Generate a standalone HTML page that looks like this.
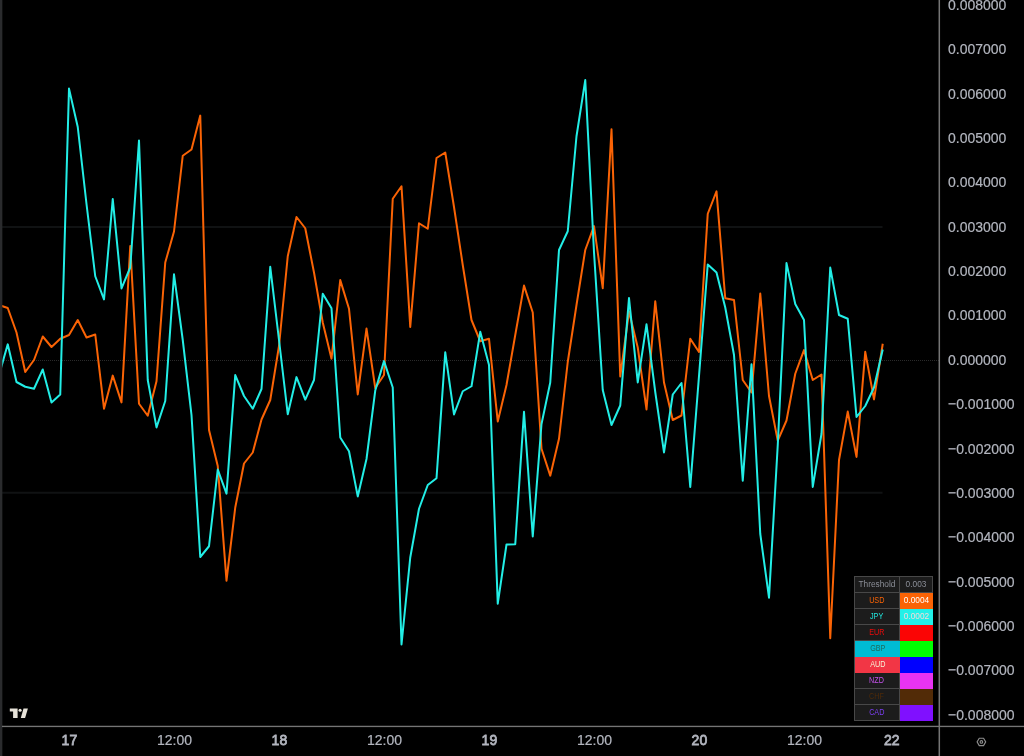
<!DOCTYPE html>
<html><head><meta charset="utf-8"><title>Chart</title>
<style>
html,body{margin:0;padding:0;background:#000;}
body{width:1024px;height:756px;position:relative;overflow:hidden;font-family:"Liberation Sans",sans-serif;}
.yl{position:absolute;left:948px;height:16px;line-height:16px;font-size:14px;color:#b2b5be;white-space:nowrap;transform:scaleY(1.08);transform-origin:0 12.6px;-webkit-text-stroke:0.2px #b2b5be;}
.xl{position:absolute;top:731.5px;width:60px;text-align:center;height:16px;line-height:16px;font-size:14px;color:#b2b5be;white-space:nowrap;transform:scaleY(1.07);transform-origin:0 12.6px;-webkit-text-stroke:0.2px #b2b5be;}
.xl.b{font-weight:normal;-webkit-text-stroke:0.75px #b2b5be;}
#tbl{position:absolute;left:854px;top:576px;width:79px;height:145px;background:#484848;}
.tr{position:absolute;left:0;width:79px;height:16px;}
.c1,.c2{position:absolute;top:1px;height:15px;line-height:15px;font-size:8.3px;text-align:center;white-space:nowrap;}
.c1{left:1px;width:44px;}
.n{display:inline-block;transform:scaleX(.87);}
.c2{left:46px;width:32px;}
svg{position:absolute;left:0;top:0;}
</style></head><body>
<svg width="1024" height="756" viewBox="0 0 1024 756">
<line x1="2" y1="227" x2="882.5" y2="227" stroke="#101213" stroke-width="2"/>
<line x1="2" y1="492.7" x2="882.5" y2="492.7" stroke="#101213" stroke-width="2"/>
<line x1="2" y1="360.5" x2="939" y2="360.5" stroke="#2a2a2a" stroke-width="1" stroke-dasharray="1 1"/>
<polyline fill="none" stroke="#fa6305" stroke-width="2" stroke-linejoin="round" points="-1.00,305.00 7.75,308.00 16.50,332.50 25.25,372.00 34.00,360.00 42.75,336.50 51.50,347.00 60.25,338.75 69.00,335.00 77.75,320.00 86.50,337.50 95.25,334.50 104.00,408.65 112.75,375.60 121.50,402.40 130.25,246.10 139.00,403.75 147.75,415.75 156.50,381.25 165.25,262.50 174.00,231.50 182.75,155.75 191.50,149.50 200.25,115.60 209.00,430.00 217.75,466.00 226.50,580.65 235.25,507.50 244.00,463.50 252.75,452.50 261.50,419.50 270.25,400.00 279.00,346.00 287.75,256.25 296.50,217.00 305.25,228.25 314.00,272.50 322.75,322.50 331.50,358.65 340.25,280.10 349.00,308.75 357.75,394.40 366.50,328.60 375.25,388.00 384.00,375.00 392.75,198.75 401.50,186.25 410.25,326.90 419.00,223.25 427.75,228.75 436.50,158.00 445.25,152.50 454.00,207.00 462.75,265.00 471.50,320.00 480.25,341.25 489.00,338.75 497.75,421.40 506.50,385.00 515.25,335.00 524.00,285.60 532.75,312.50 541.50,448.75 550.25,475.65 559.00,438.75 567.75,362.00 576.50,305.00 585.25,250.00 594.00,226.10 602.75,288.15 611.50,129.35 620.25,376.40 629.00,311.60 637.75,347.50 646.50,409.40 655.25,301.35 664.00,382.50 672.75,420.00 681.50,415.50 690.25,338.75 699.00,352.00 707.75,213.75 716.50,191.35 725.25,298.25 734.00,300.00 742.75,380.00 751.50,392.50 760.25,293.60 769.00,396.00 777.75,440.65 786.50,420.50 795.25,373.75 804.00,350.10 812.75,380.00 821.50,374.50 830.25,638.15 839.00,460.00 847.75,411.60 856.50,456.90 865.25,351.85 874.00,399.40 882.75,343.75"/>
<polyline fill="none" stroke="#22eee6" stroke-width="2" stroke-linejoin="round" points="-1.00,375.00 7.75,344.35 16.50,382.00 25.25,386.75 34.00,388.75 42.75,369.50 51.50,402.50 60.25,394.50 69.00,88.60 77.75,127.00 86.50,204.00 95.25,276.25 104.00,299.40 112.75,199.10 121.50,288.40 130.25,267.50 139.00,140.60 147.75,380.00 156.50,427.40 165.25,401.00 174.00,274.35 182.75,340.00 191.50,415.00 200.25,557.00 209.00,546.25 217.75,469.60 226.50,493.65 235.25,375.10 244.00,396.00 252.75,408.75 261.50,389.00 270.25,266.85 279.00,340.00 287.75,414.20 296.50,377.10 305.25,399.60 314.00,380.00 322.75,293.75 331.50,308.25 340.25,437.50 349.00,451.25 357.75,496.40 366.50,459.00 375.25,390.50 384.00,361.10 392.75,387.50 401.50,644.40 410.25,557.50 419.00,508.75 427.75,485.00 436.50,478.25 445.25,352.35 454.00,414.40 462.75,391.25 471.50,386.25 480.25,331.85 489.00,365.00 497.75,603.65 506.50,544.50 515.25,544.25 524.00,411.85 532.75,536.40 541.50,424.00 550.25,382.50 559.00,250.00 567.75,231.25 576.50,136.25 585.25,80.10 594.00,252.00 602.75,390.00 611.50,425.00 620.25,405.50 629.00,298.10 637.75,382.40 646.50,324.35 655.25,392.00 664.00,452.40 672.75,394.50 681.50,383.00 690.25,486.90 699.00,376.00 707.75,264.50 716.50,272.50 725.25,307.50 734.00,355.00 742.75,480.65 751.50,364.35 760.25,533.75 769.00,597.65 777.75,445.00 786.50,263.10 795.25,304.00 804.00,320.00 812.75,486.90 821.50,433.75 830.25,267.60 839.00,315.00 847.75,318.75 856.50,417.00 865.25,406.00 874.00,387.50 882.75,349.50"/>
<g fill="#e6e2d8">
<path d="M9.8 708.6H17.6V718.1H13.1V711.5H9.8Z"/>
<circle cx="20.1" cy="710.3" r="1.55"/>
<path d="M23.5 708.6H27.9L25.1 718.1H20.8Z"/>
</g>
<rect x="0" y="0" width="2.35" height="756" fill="#2a2b2d"/>
<rect x="938.55" y="0" width="1.5" height="756" fill="#757575"/>
<rect x="2" y="725.75" width="1022" height="1.35" fill="#757575"/>
<g fill="none" stroke="#8c8c8c" stroke-width="1.1" stroke-linejoin="round">
<path d="M977.1 741.9L979.25 738.18H983.55L985.7 741.9L983.55 745.62H979.25Z"/>
<circle cx="981.4" cy="741.9" r="1.3"/>
</g>
</svg>

<div class="yl" style="top:-3.00px">0.008000</div>
<div class="yl" style="top:41.35px">0.007000</div>
<div class="yl" style="top:85.70px">0.006000</div>
<div class="yl" style="top:130.05px">0.005000</div>
<div class="yl" style="top:174.40px">0.004000</div>
<div class="yl" style="top:218.75px">0.003000</div>
<div class="yl" style="top:263.10px">0.002000</div>
<div class="yl" style="top:307.45px">0.001000</div>
<div class="yl" style="top:351.80px">0.000000</div>
<div class="yl" style="top:396.15px">−0.001000</div>
<div class="yl" style="top:440.50px">−0.002000</div>
<div class="yl" style="top:484.85px">−0.003000</div>
<div class="yl" style="top:529.20px">−0.004000</div>
<div class="yl" style="top:573.55px">−0.005000</div>
<div class="yl" style="top:617.90px">−0.006000</div>
<div class="yl" style="top:662.25px">−0.007000</div>
<div class="yl" style="top:706.60px">−0.008000</div>
<div class="xl b" style="left:39.4px">17</div>
<div class="xl" style="left:144.5px">12:00</div>
<div class="xl b" style="left:249.4px">18</div>
<div class="xl" style="left:354.5px">12:00</div>
<div class="xl b" style="left:459.4px">19</div>
<div class="xl" style="left:564.5px">12:00</div>
<div class="xl b" style="left:669.4px">20</div>
<div class="xl" style="left:774.5px">12:00</div>
<div class="xl b" style="left:861.7px">22</div>
<div id="tbl">
<div class="tr" style="top:0px"><div class="c1" style="color:#8b8e97;background:#1c1c1c;">Threshold</div><div class="c2" style="color:#8b8e97;background:#1c1c1c;">0.003</div></div>
<div class="tr" style="top:16px"><div class="c1" style="color:#fa6305;background:#1c1c1c;"><span class="n">USD</span></div><div class="c2" style="color:#ffffff;background:#fa6305;width:33px;height:16px;">0.0004</div></div>
<div class="tr" style="top:32px"><div class="c1" style="color:#22e8e0;background:#1c1c1c;"><span class="n">JPY</span></div><div class="c2" style="color:#f3d9d9;background:#22f0e8;width:33px;height:16px;">0.0002</div></div>
<div class="tr" style="top:48px"><div class="c1" style="color:#f00a0a;background:#1c1c1c;"><span class="n">EUR</span></div><div class="c2" style="color:#fff;background:#fb0505;width:33px;height:16px;"></div></div>
<div class="tr" style="top:64px"><div class="c1" style="color:#1f6a5c;background:#00bcd4;left:1px;width:45px;height:16px;"><span class="n">GBP</span></div><div class="c2" style="color:#fff;background:#00ff00;width:33px;height:16px;"></div></div>
<div class="tr" style="top:80px"><div class="c1" style="color:#f7f1d6;background:#f23645;left:1px;width:45px;height:16px;"><span class="n">AUD</span></div><div class="c2" style="color:#fff;background:#0000ff;width:33px;height:16px;"></div></div>
<div class="tr" style="top:96px"><div class="c1" style="color:#c452ea;background:#1c1c1c;"><span class="n">NZD</span></div><div class="c2" style="color:#fff;background:#e833f2;width:33px;height:16px;"></div></div>
<div class="tr" style="top:112px"><div class="c1" style="color:#4e2a08;background:#1c1c1c;"><span class="n">CHF</span></div><div class="c2" style="color:#fff;background:#522b07;width:33px;height:16px;"></div></div>
<div class="tr" style="top:128px"><div class="c1" style="color:#7c3ff5;background:#1c1c1c;"><span class="n">CAD</span></div><div class="c2" style="color:#fff;background:#8010ff;width:33px;height:16px;"></div></div>
</div>
</body></html>
